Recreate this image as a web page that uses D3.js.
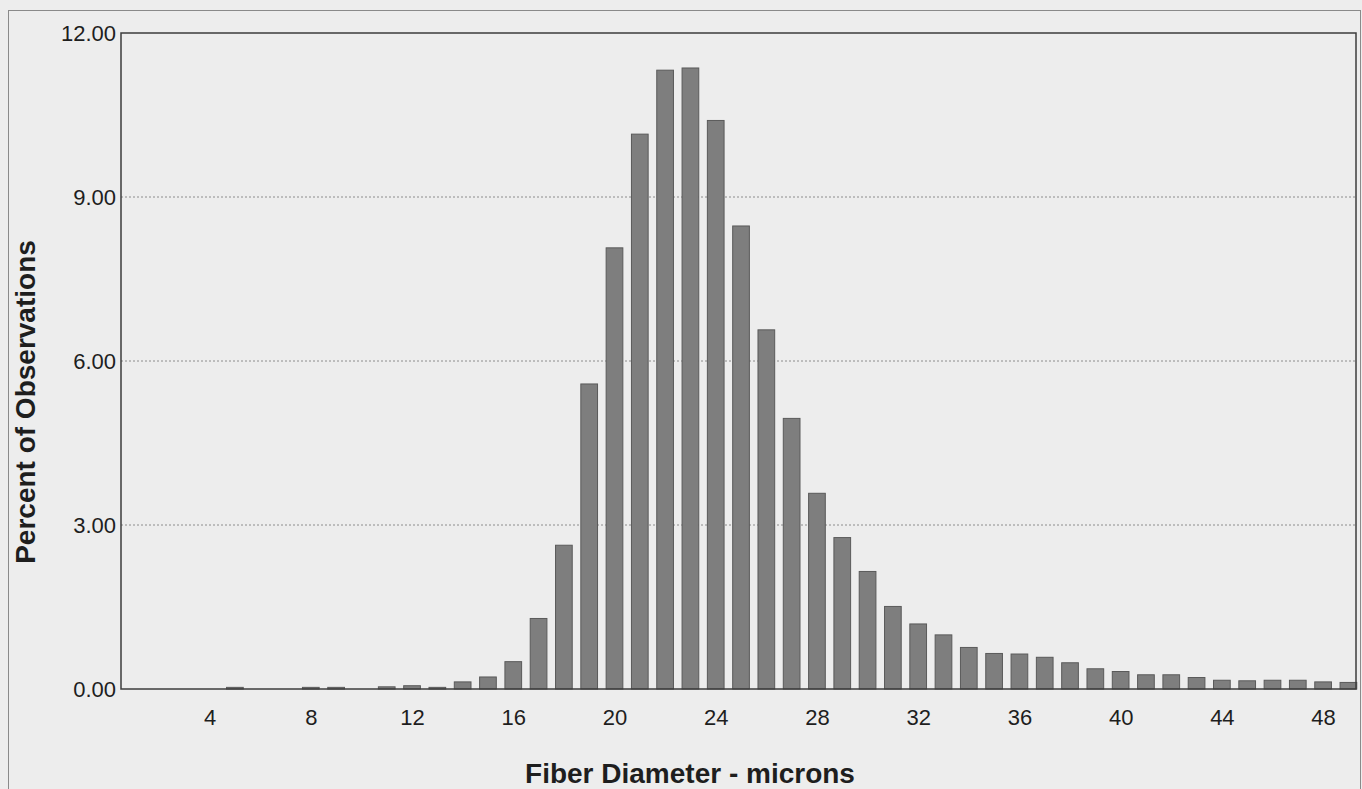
<!DOCTYPE html>
<meta charset="utf-8">
<script src="https://d3js.org/d3.v7.min.js"></script>
<style>
  body { margin: 0; background: #ededed; }
  text { font-family: "Liberation Sans", Arial, sans-serif; fill: #1e1e1e; }
</style>
<body>
<div id="my_visual"></div>
<script>

// Fiber diameter classes (microns) and percent of observations in each
var diameters = [1, 2, 3, 4, 5, 6, 7, 8, 9, 10,
                 11, 12, 13, 14, 15, 16, 17, 18, 19, 20,
                 21, 22, 23, 24, 25, 26, 27, 28, 29, 30,
                 31, 32, 33, 34, 35, 36, 37, 38, 39, 40,
                 41, 42, 43, 44, 45, 46, 47, 48, 49];
var percents = [0, 0, 0, 0, 0.03, 0, 0, 0.03, 0.03, 0,
                0.04, 0.06, 0.03, 0.13, 0.22, 0.50, 1.29, 2.63, 5.58, 8.07,
                10.15, 11.32, 11.36, 10.40, 8.47, 6.57, 4.95, 3.58, 2.77, 2.15,
                1.51, 1.19, 0.99, 0.76, 0.65, 0.64, 0.58, 0.48, 0.37, 0.32,
                0.26, 0.26, 0.21, 0.16, 0.15, 0.16, 0.16, 0.13, 0.12];
var xTicks = [4, 8, 12, 16, 20, 24, 28, 32, 36, 40, 44, 48];
var yTicks = [0, 3, 6, 9, 12];

// plot area edges
var W = 1362, H = 789;
var plotL = 121, plotR = 1356, plotT = 33, plotB = 689;

var svg = d3.select("#my_visual")
  .append("svg")
    .attr("width", W)
    .attr("height", H);

// outer frame
svg.append("rect")
  .attr("x", 8.5).attr("y", 10.5)
  .attr("width", 1352).attr("height", 790)
  .attr("fill", "none")
  .attr("stroke", "#8a8a8a")
  .attr("stroke-width", 1);

var x = d3.scaleLinear()
  .domain([0.5, 49.3])
  .range([plotL, plotR]);

var y = d3.scaleLinear()
  .domain([0, 12])
  .range([plotB, plotT]);

// dotted grid lines
svg.append("g")
  .selectAll("line")
  .data(yTicks.filter(function(d) { return d > 0 && d < 12; }))
  .enter()
  .append("line")
    .attr("x1", plotL).attr("x2", plotR)
    .attr("y1", function(d) { return y(d); })
    .attr("y2", function(d) { return y(d); })
    .attr("stroke", "#8c8c8c")
    .attr("stroke-width", 1)
    .attr("stroke-dasharray", "2,2");

// bars
var bw = (x(1) - x(0)) * 0.66;
var data = diameters.map(function(d, i) { return {d: d, p: percents[i]}; });

svg.append("g")
  .selectAll("rect")
  .data(data.filter(function(d) { return d.p > 0; }))
  .enter()
  .append("rect")
    .attr("x", function(d) { return x(d.d) - bw / 2; })
    .attr("y", function(d) { return y(d.p); })
    .attr("width", bw)
    .attr("height", function(d) { return y(0) - y(d.p); })
    .attr("fill", "#7e7e7e")
    .attr("stroke", "#5a5a5a")
    .attr("stroke-width", 1);

// plot frame
svg.append("rect")
  .attr("x", plotL).attr("y", plotT)
  .attr("width", plotR - plotL).attr("height", plotB - plotT)
  .attr("fill", "none")
  .attr("stroke", "#3c3c3c")
  .attr("stroke-width", 1.5);

// Y axis
var yAxis = svg.append("g")
  .attr("transform", "translate(" + plotL + ",0)")
  .call(d3.axisLeft(y).tickValues(yTicks).tickFormat(d3.format(".2f")).tickSize(0).tickPadding(5));
yAxis.select(".domain").remove();
yAxis.selectAll("text")
  .style("font-size", "22px")
  .attr("dy", "0.36em");

// X axis
var xAxis = svg.append("g")
  .attr("transform", "translate(0," + plotB + ")")
  .call(d3.axisBottom(x).tickValues(xTicks).tickSize(0).tickPadding(20));
xAxis.select(".domain").remove();
xAxis.selectAll("text")
  .style("font-size", "22px");

// axis titles
svg.append("text")
  .attr("x", 690)
  .attr("y", 783)
  .attr("text-anchor", "middle")
  .style("font-size", "28px")
  .style("font-weight", "bold")
  .text("Fiber Diameter - microns");

svg.append("text")
  .attr("transform", "rotate(-90)")
  .attr("x", -402)
  .attr("y", 35)
  .attr("text-anchor", "middle")
  .style("font-size", "28px")
  .style("font-weight", "bold")
  .text("Percent of Observations");

</script>
</body>
</html>
